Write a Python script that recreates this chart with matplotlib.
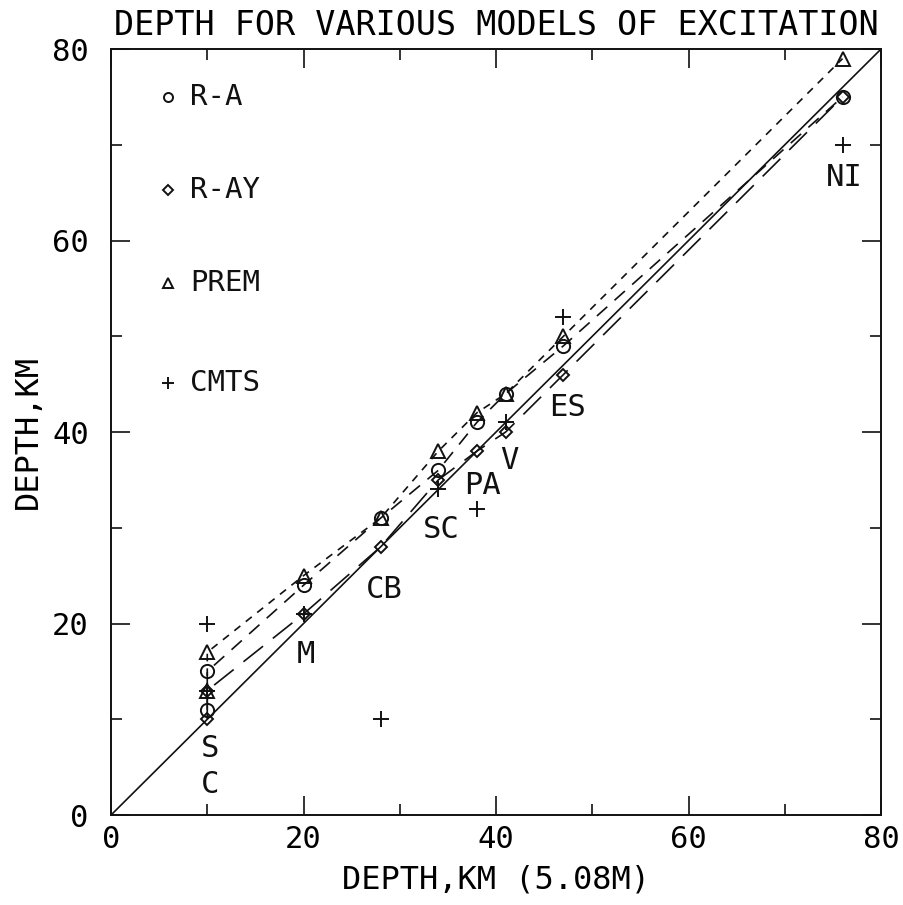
import matplotlib
matplotlib.use("Agg")
import matplotlib.pyplot as plt
from matplotlib.ticker import MultipleLocator

# Station depths (km) from the 5.08 m reference model and from four excitation models
station = ["C", "S", "M", "CB", "SC", "PA", "V", "ES", "NI"]
depth_ref = [10, 10, 20, 28, 34, 38, 41, 47, 76]
depth_ra = [11, 15, 24, 31, 36, 41, 44, 49, 75]
depth_ray = [10, 13, 21, 28, 35, 38, 40, 46, 75]
depth_prem = [13, 17, 25, 31, 38, 42, 44, 50, 79]
depth_cmts = [13, 20, 21, 10, 34, 32, 41, 52, 70]

# Where each station name is written (data units)
label_xy = {
    "S": (10.3, 7.0), "C": (10.3, 3.2), "M": (20.2, 16.8), "CB": (28.4, 23.6),
    "SC": (34.3, 29.8), "PA": (38.6, 34.4), "V": (41.4, 37.0), "ES": (47.4, 42.6),
    "NI": (76.2, 66.6),
}

plt.rcParams["font.family"] = ["DejaVu Sans Mono"]
plt.rcParams["lines.scale_dashes"] = False

fig = plt.figure(figsize=(9.04, 9.05), dpi=100)
ax = fig.add_axes([0.1228, 0.0994, 0.8518, 0.8464])
ax.set_xlim(0, 80)
ax.set_ylim(0, 80)

ink = "#111111"
lw = 1.2
fs = 22

# one-to-one reference line
ax.plot([0, 80], [0, 80], color=ink, lw=lw)

ax.plot(depth_ref, depth_prem, color=ink, lw=lw, dashes=(5.5, 5))
ax.plot(depth_ref, depth_ra, color=ink, lw=lw, dashes=(10, 7))
ax.plot(depth_ref, depth_ray, color=ink, lw=lw, dashes=(18, 9))

mk = dict(color=ink, linestyle="none", markerfacecolor="none", markeredgewidth=1.4)
ax.plot(depth_ref, depth_ra, marker="o", markersize=9.5, **mk)
ax.plot(depth_ref, depth_ray, marker="D", markersize=6.5, **mk)
ax.plot(depth_ref, depth_prem, marker="^", markersize=9.5, **mk)
ax.plot(depth_ref, depth_cmts, marker="+", markersize=12, **mk)

for name in station:
    lx, ly = label_xy[name]
    ax.text(lx, ly, name, fontsize=fs, color=ink, ha="center", va="center")

# key in the upper left corner
key = [("o", 6.5, "R-A"), ("D", 5, "R-AY"), ("^", 6.5, "PREM"), ("+", 9, "CMTS")]
key_y = [0.937, 0.816, 0.694, 0.564]
for (m, ms, txt), yk in zip(key, key_y):
    ax.plot([0.074], [yk], transform=ax.transAxes, marker=m, markersize=ms, **mk)
    ax.text(0.103, yk, txt, transform=ax.transAxes, fontsize=fs - 1, color=ink,
            ha="left", va="center")

ax.xaxis.set_major_locator(MultipleLocator(20))
ax.xaxis.set_minor_locator(MultipleLocator(10))
ax.yaxis.set_major_locator(MultipleLocator(20))
ax.yaxis.set_minor_locator(MultipleLocator(10))
ax.tick_params(which="both", direction="in", top=True, right=True, color=ink, width=1.2)
ax.tick_params(which="major", length=14, labelsize=fs)
ax.tick_params(which="minor", length=8)
ax.tick_params(axis="y", pad=16)
ax.tick_params(axis="x", pad=7)
for sp in ax.spines.values():
    sp.set_linewidth(1.4)
    sp.set_color(ink)

ax.set_xlabel("DEPTH,KM (5.08M)", fontsize=fs + 1, labelpad=8)
ax.set_ylabel("DEPTH,KM", fontsize=fs + 1, labelpad=6)
ax.set_title("DEPTH FOR VARIOUS MODELS OF EXCITATION", fontsize=24, pad=10)

fig.savefig("out.png", dpi=100)
